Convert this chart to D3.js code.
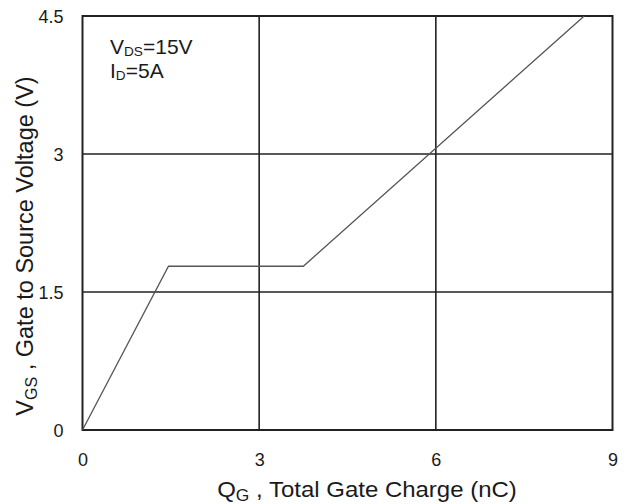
<!DOCTYPE html>
<html>
<head>
<meta charset="utf-8">
<script src="https://cdn.jsdelivr.net/npm/d3@7"></script>
<style>
  html, body { margin: 0; padding: 0; background: #fff; }
  svg { display: block; }
  text { font-family: "Liberation Sans", Arial, sans-serif; fill: #1a1a1a; }
</style>
</head>
<body>
<script>
// Gate charge curve: Qg (nC) vs Vgs (V)
const gateCharge = [0, 1.46, 3.75, 8.52];
const gateVoltage = [0, 1.78, 1.78, 4.5];
const xTicks = [0, 3, 6, 9];
const yTicks = [0, 1.5, 3, 4.5];
const yTickLabels = ["0", "1.5", "3", "4.5"];

const W = 629, H = 504;
const svg = d3.select("body").append("svg").attr("width", W).attr("height", H);

const x = d3.scaleLinear().domain([0, 9]).range([82.5, 612.5]);
const y = d3.scaleLinear().domain([0, 4.5]).range([430, 16]);

const ink = "#222";

// grid lines
const grid = svg.append("g");
grid.selectAll("line.vx").data(xTicks.slice(1, -1)).join("line")
  .attr("x1", d => x(d)).attr("x2", d => x(d))
  .attr("y1", y(0)).attr("y2", y(4.5))
  .attr("stroke", ink).attr("stroke-width", 1.6);
grid.selectAll("line.hy").data(yTicks.slice(1, -1)).join("line")
  .attr("x1", x(0)).attr("x2", x(9))
  .attr("y1", d => y(d)).attr("y2", d => y(d))
  .attr("stroke", ink).attr("stroke-width", 1.6);

// frame
svg.append("rect")
  .attr("x", x(0)).attr("y", y(4.5))
  .attr("width", x(9) - x(0)).attr("height", y(0) - y(4.5))
  .attr("fill", "none").attr("stroke", ink).attr("stroke-width", 2);

// curve
const line = d3.line().x((d, i) => x(gateCharge[i])).y((d, i) => y(gateVoltage[i]));
svg.append("path")
  .attr("d", line(gateCharge))
  .attr("fill", "none").attr("stroke", "#555").attr("stroke-width", 1.3);

// axis tick labels
const xAxis = d3.axisBottom(x).tickValues(xTicks).tickSize(0).tickPadding(0)
  .tickFormat(d3.format("d"));
const gx = svg.append("g").attr("transform", "translate(0,466)").call(xAxis);
gx.select(".domain").remove();
gx.selectAll("text").attr("dy", 0).attr("y", 0)
  .style("font-size", "18px").style("font-family", "Liberation Sans, Arial, sans-serif")
  .attr("fill", "#1a1a1a");

const yAxis = d3.axisLeft(y).tickValues(yTicks).tickSize(0).tickPadding(0)
  .tickFormat((d, i) => yTickLabels[i]);
const gy = svg.append("g").attr("transform", "translate(63.5,0)").call(yAxis);
gy.select(".domain").remove();
gy.selectAll("text").attr("dy", "0.36em").attr("x", 0)
  .style("font-size", "18px").style("font-family", "Liberation Sans, Arial, sans-serif")
  .attr("fill", "#1a1a1a");

// axis titles
const xt = svg.append("text")
  .attr("transform", "translate(367,497) scale(1.09,1)")
  .attr("text-anchor", "middle").style("font-size", "22px");
xt.append("tspan").text("Q");
xt.append("tspan").attr("dy", 4).style("font-size", "16px").text("G");
xt.append("tspan").attr("dy", -4).text(" , Total Gate Charge (nC)");

const yt = svg.append("text")
  .attr("transform", "translate(32.5,246) rotate(-90)")
  .attr("text-anchor", "middle").style("font-size", "23.5px");
yt.append("tspan").text("V");
yt.append("tspan").attr("dy", 4).style("font-size", "16px").text("GS");
yt.append("tspan").attr("dy", -4).text(" , Gate to Source Voltage (V)");

// test conditions
const notes = svg.append("g").attr("transform", "translate(110,0) scale(1.05,1)");
const a1 = notes.append("text").attr("x", 0).attr("y", 54).style("font-size", "20px");
a1.append("tspan").text("V");
a1.append("tspan").attr("dy", 2.5).style("font-size", "13px").text("DS");
a1.append("tspan").attr("dy", -2.5).text("=15V");

const a2 = notes.append("text").attr("x", 0).attr("y", 78).style("font-size", "20px");
a2.append("tspan").text("I");
a2.append("tspan").attr("dy", 2.5).style("font-size", "13px").text("D");
a2.append("tspan").attr("dy", -2.5).text("=5A");
</script>
</body>
</html>
